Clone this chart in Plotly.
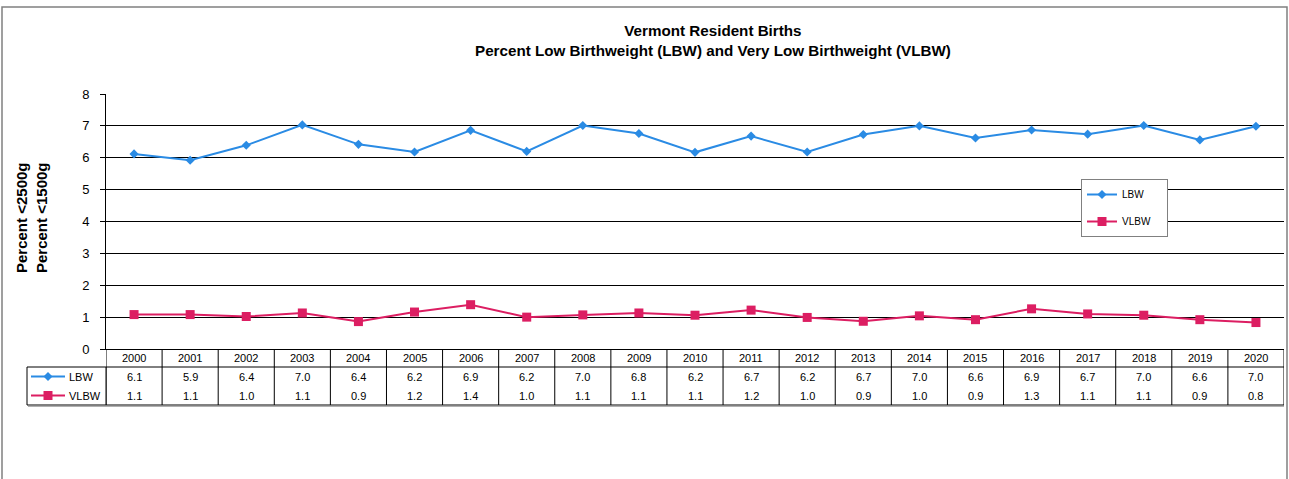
import plotly.graph_objects as go

# ---------------- data ----------------
years = ["2000", "2001", "2002", "2003", "2004", "2005", "2006", "2007", "2008", "2009", "2010",
         "2011", "2012", "2013", "2014", "2015", "2016", "2017", "2018", "2019", "2020"]
lbw = [6.12, 5.92, 6.39, 7.03, 6.42, 6.18, 6.86, 6.20, 7.01, 6.76, 6.17,
       6.68, 6.18, 6.73, 7.00, 6.62, 6.87, 6.74, 7.01, 6.56, 6.99]
vlbw = [1.08, 1.08, 1.02, 1.13, 0.86, 1.16, 1.39, 1.00, 1.07, 1.13, 1.06,
        1.22, 0.99, 0.87, 1.04, 0.92, 1.26, 1.10, 1.06, 0.92, 0.83]
series_names = ["LBW", "VLBW"]
y_ticks = [0, 1, 2, 3, 4, 5, 6, 7, 8]

title_lines = ["Vermont Resident Births",
               "Percent Low Birthweight (LBW) and Very Low Birthweight (VLBW)"]
ytitle_lines = ["Percent &lt;2500g", "Percent &lt;1500g"]

# ---------------- styling / layout ----------------
W, H = 1289, 479
L, R, T, B = 106, 5, 94, 130
PW, PH = W - L - R, H - T - B
FONT = "Liberation Sans, Arial, sans-serif"
BLUE = "#2A8BE4"
PINK = "#DC1E62"
LEGEND_PAD = "&nbsp;" * 4


def px(x):
    return (x - L) / PW


def py(y):
    return (H - B - y) / PH


fig = go.Figure()
fig.add_trace(go.Scatter(
    x=years, y=lbw, name=series_names[0] + LEGEND_PAD, mode="lines+markers", legendgroup="a",
    hovertemplate=series_names[0] + " %{x}: %{y:.1f}<extra></extra>",
    line=dict(color=BLUE, width=2), marker=dict(symbol="diamond", size=7, color=BLUE)))
fig.add_trace(go.Scatter(
    x=years, y=vlbw, name=series_names[1] + LEGEND_PAD, mode="lines+markers", legendgroup="b",
    hovertemplate=series_names[1] + " %{x}: %{y:.1f}<extra></extra>",
    line=dict(color=PINK, width=2), marker=dict(symbol="square", size=9, color=PINK)))

shapes = []
annotations = []

# outer frame
shapes.append(dict(type="rect", xref="paper", yref="paper", x0=px(2), x1=px(1287),
                   y0=py(490), y1=py(7), line=dict(color="#808080", width=1.5), layer="below"))

# data table grid
row_header, row_a, row_b, row_end = 349, 367, 386, 405
for i in range(len(years) + 1):
    shapes.append(dict(type="line", xref="x", yref="paper", x0=i - 0.5, x1=i - 0.5,
                       y0=py(row_header), y1=py(row_end), line=dict(color="black", width=1)))
for yy in (row_a, row_end):
    shapes.append(dict(type="line", xref="paper", yref="paper", x0=px(27), x1=1.0,
                       y0=py(yy), y1=py(yy), line=dict(color="black", width=1)))
shapes.append(dict(type="line", xref="paper", yref="paper", x0=px(27), x1=px(27),
                   y0=py(row_a), y1=py(row_end), line=dict(color="black", width=1)))
shapes.append(dict(type="line", xref="paper", yref="paper", x0=px(106), x1=px(106),
                   y0=py(row_a), y1=py(row_end), line=dict(color="black", width=1)))
# faint shadow under the table
shapes.append(dict(type="line", xref="paper", yref="paper", x0=px(28), x1=1.0,
                   y0=py(row_end + 1.5), y1=py(row_end + 1.5), line=dict(color="#B0B0B0", width=1)))

yc_head = (row_header + row_a) / 2
yc_a = (row_a + row_b) / 2
yc_b = (row_b + row_end) / 2

# series keys in table
for yc, col, sym in ((yc_a, BLUE, "diamond"), (yc_b, PINK, "square")):
    shapes.append(dict(type="line", xref="paper", yref="paper", x0=px(31), x1=px(65),
                       y0=py(yc), y1=py(yc), line=dict(color=col, width=2)))
    h = 4.5
    if sym == "diamond":
        path = "M {},{} L {},{} L {},{} L {},{} Z".format(
            px(48 - h), py(yc), px(48), py(yc - h), px(48 + h), py(yc), px(48), py(yc + h))
        shapes.append(dict(type="path", xref="paper", yref="paper", path=path,
                           fillcolor=col, line=dict(color=col, width=0)))
    else:
        shapes.append(dict(type="rect", xref="paper", yref="paper", x0=px(48 - h), x1=px(48 + h),
                           y0=py(yc + h), y1=py(yc - h), fillcolor=col, line=dict(color=col, width=0)))

for name, yc in ((series_names[0], yc_a), (series_names[1], yc_b)):
    annotations.append(dict(text=name, xref="paper", yref="paper", x=px(67), y=py(yc),
                            xanchor="left", yanchor="middle", showarrow=False,
                            font=dict(family=FONT, size=11, color="black")))

for i, yr in enumerate(years):
    annotations.append(dict(text=yr, xref="x", yref="paper", x=i, y=py(yc_head),
                            xanchor="center", yanchor="middle", showarrow=False,
                            font=dict(family=FONT, size=11, color="black")))
    annotations.append(dict(text="{:.1f}".format(lbw[i]), xref="x", yref="paper", x=i, y=py(yc_a),
                            xanchor="center", yanchor="middle", showarrow=False,
                            font=dict(family=FONT, size=11, color="black")))
    annotations.append(dict(text="{:.1f}".format(vlbw[i]), xref="x", yref="paper", x=i, y=py(yc_b),
                            xanchor="center", yanchor="middle", showarrow=False,
                            font=dict(family=FONT, size=11, color="black")))

# title
annotations.append(dict(text="<b>" + "<br>".join(title_lines) + "</b>", xref="paper", yref="paper",
                        x=px(713), y=py(40), xanchor="center", yanchor="middle", showarrow=False,
                        font=dict(family=FONT, size=15.2, color="black")))
# y-axis title
annotations.append(dict(text="<b>" + "<br>".join(ytitle_lines) + "</b>", xref="paper", yref="paper",
                        x=px(31), y=py(218), xanchor="center", yanchor="middle", showarrow=False,
                        textangle=-90, font=dict(family=FONT, size=15, color="black")))

fig.update_layout(
    width=W, height=H,
    margin=dict(l=L, r=R, t=T, b=B, pad=0),
    paper_bgcolor="white", plot_bgcolor="white",
    font=dict(family=FONT, color="black"),
    shapes=shapes, annotations=annotations,
    showlegend=True,
    legend=dict(x=px(1081), y=py(179), xanchor="left", yanchor="top",
                bgcolor="white", bordercolor="#808080", borderwidth=1,
                font=dict(family=FONT, size=10, color="black"),
                traceorder="grouped", tracegroupgap=8, itemwidth=30),
    xaxis=dict(type="category", categoryorder="array", categoryarray=years,
               range=[-0.5, len(years) - 0.5], showticklabels=False, showgrid=False,
               showline=True, linecolor="black", linewidth=1, ticks="", zeroline=False, fixedrange=True),
    yaxis=dict(range=[0, 8], tickvals=y_ticks, showgrid=True, gridcolor="black", gridwidth=1,
               showline=True, linecolor="black", linewidth=1, ticks="outside", ticklen=5,
               tickcolor="black", zeroline=False, ticklabelstandoff=8,
               tickfont=dict(family=FONT, size=13, color="black"), fixedrange=True),
)

fig.write_html("out.html", config={"displayModeBar": False},
               post_script="document.body.style.margin='0';document.body.style.overflow='hidden';")
